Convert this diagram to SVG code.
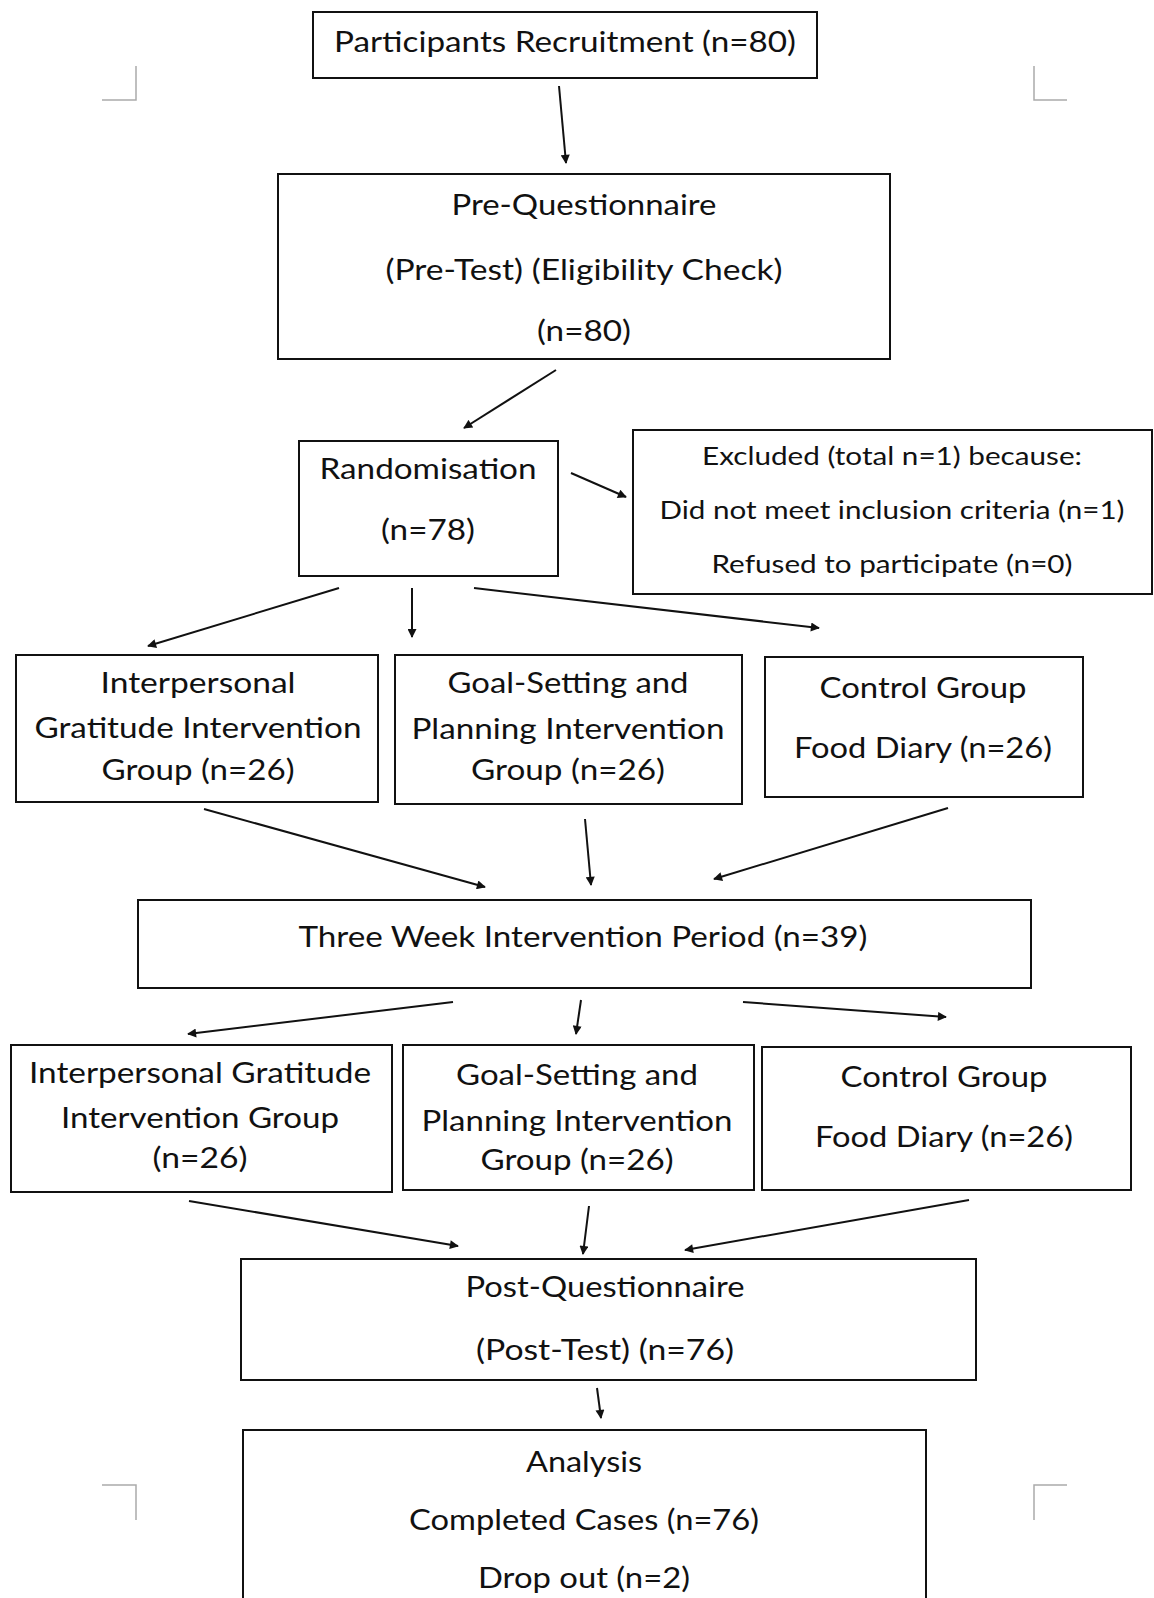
<svg xmlns="http://www.w3.org/2000/svg" width="1154" height="1598" viewBox="0 0 1154 1598">
<defs>
<style>
.box{fill:#fff;stroke:#111;stroke-width:2}
.t{font-family:Lato,"Open Sans","Liberation Sans",sans-serif;font-size:29px;fill:#111;text-anchor:middle}
.s{font-size:25px}
.c{stroke:#111;stroke-width:2;fill:none;marker-end:url(#ah)}
.crop{stroke:#aaa;stroke-width:1.5;fill:none}
</style>
<marker id="ah" viewBox="0 0 10 10" refX="9" refY="5" markerWidth="11" markerHeight="9" markerUnits="userSpaceOnUse" orient="auto">
<path d="M0,0 L10,5 L0,10 Z" fill="#111"/>
</marker>
</defs>
<rect width="1154" height="1598" fill="#fff"/>
<g id="cropmarks">
<path class="crop" d="M102,100 H136 V66"/>
<path class="crop" d="M1067,100 H1034 V66"/>
<path class="crop" d="M102,1485 H136 V1520"/>
<path class="crop" d="M1067,1485 H1034 V1520"/>
</g>
<g id="connectors">
<line class="c" x1="559" y1="86" x2="566" y2="163"/>
<line class="c" x1="556" y1="370" x2="464" y2="428"/>
<line class="c" x1="571" y1="473" x2="626" y2="497"/>
<line class="c" x1="339" y1="588" x2="148" y2="646"/>
<line class="c" x1="412" y1="588" x2="412" y2="637"/>
<line class="c" x1="474" y1="588" x2="819" y2="628"/>
<line class="c" x1="204" y1="809" x2="485" y2="887"/>
<line class="c" x1="585" y1="819" x2="591" y2="885"/>
<line class="c" x1="948" y1="808" x2="714" y2="879"/>
<line class="c" x1="453" y1="1002" x2="188" y2="1034"/>
<line class="c" x1="581" y1="1000" x2="576" y2="1034"/>
<line class="c" x1="743" y1="1002" x2="946" y2="1017"/>
<line class="c" x1="189" y1="1201" x2="458" y2="1246"/>
<line class="c" x1="589" y1="1206" x2="583" y2="1254"/>
<line class="c" x1="969" y1="1200" x2="685" y2="1250"/>
<line class="c" x1="597" y1="1388" x2="601" y2="1418"/>
</g>
<g id="recruitment">
<rect class="box" x="313" y="12" width="504" height="66"/>
<text class="t" x="565" y="52" textLength="462" lengthAdjust="spacingAndGlyphs">Participants Recruitment (n=80)</text>
</g>
<g id="pre-questionnaire">
<rect class="box" x="278" y="174" width="612" height="185"/>
<text class="t" x="584" y="215" textLength="265" lengthAdjust="spacingAndGlyphs">Pre-Questionnaire</text>
<text class="t" x="584" y="280" textLength="397" lengthAdjust="spacingAndGlyphs">(Pre-Test) (Eligibility Check)</text>
<text class="t" x="584" y="341" textLength="94" lengthAdjust="spacingAndGlyphs">(n=80)</text>
</g>
<g id="randomisation">
<rect class="box" x="299" y="441" width="259" height="135"/>
<text class="t" x="428" y="479" textLength="217" lengthAdjust="spacingAndGlyphs">Randomisation</text>
<text class="t" x="428" y="540" textLength="94" lengthAdjust="spacingAndGlyphs">(n=78)</text>
</g>
<g id="excluded">
<rect class="box" x="633" y="430" width="519" height="164"/>
<text class="t s" x="892" y="465" textLength="380" lengthAdjust="spacingAndGlyphs">Excluded (total n=1) because:</text>
<text class="t s" x="892" y="519" textLength="465" lengthAdjust="spacingAndGlyphs">Did not meet inclusion criteria (n=1)</text>
<text class="t s" x="892" y="573" textLength="361" lengthAdjust="spacingAndGlyphs">Refused to participate (n=0)</text>
</g>
<g id="gratitude-1">
<rect class="box" x="16" y="655" width="362" height="147"/>
<text class="t" x="198" y="693" textLength="195" lengthAdjust="spacingAndGlyphs">Interpersonal</text>
<text class="t" x="198" y="738" textLength="327" lengthAdjust="spacingAndGlyphs">Gratitude Intervention</text>
<text class="t" x="198" y="780" textLength="193" lengthAdjust="spacingAndGlyphs">Group (n=26)</text>
</g>
<g id="goal-1">
<rect class="box" x="395" y="655" width="347" height="149"/>
<text class="t" x="568" y="693" textLength="241" lengthAdjust="spacingAndGlyphs">Goal-Setting and</text>
<text class="t" x="568" y="739" textLength="313" lengthAdjust="spacingAndGlyphs">Planning Intervention</text>
<text class="t" x="568" y="780" textLength="194" lengthAdjust="spacingAndGlyphs">Group (n=26)</text>
</g>
<g id="control-1">
<rect class="box" x="765" y="657" width="318" height="140"/>
<text class="t" x="923" y="698" textLength="207" lengthAdjust="spacingAndGlyphs">Control Group</text>
<text class="t" x="923" y="758" textLength="258" lengthAdjust="spacingAndGlyphs">Food Diary (n=26)</text>
</g>
<g id="three-week">
<rect class="box" x="138" y="900" width="893" height="88"/>
<text class="t" x="583" y="947" textLength="569" lengthAdjust="spacingAndGlyphs">Three Week Intervention Period (n=39)</text>
</g>
<g id="gratitude-2">
<rect class="box" x="11" y="1045" width="381" height="147"/>
<text class="t" x="200" y="1083" textLength="342" lengthAdjust="spacingAndGlyphs">Interpersonal Gratitude</text>
<text class="t" x="200" y="1128" textLength="278" lengthAdjust="spacingAndGlyphs">Intervention Group</text>
<text class="t" x="200" y="1168" textLength="95" lengthAdjust="spacingAndGlyphs">(n=26)</text>
</g>
<g id="goal-2">
<rect class="box" x="403" y="1045" width="351" height="145"/>
<text class="t" x="577" y="1085" textLength="242" lengthAdjust="spacingAndGlyphs">Goal-Setting and</text>
<text class="t" x="577" y="1131" textLength="311" lengthAdjust="spacingAndGlyphs">Planning Intervention</text>
<text class="t" x="577" y="1170" textLength="193" lengthAdjust="spacingAndGlyphs">Group (n=26)</text>
</g>
<g id="control-2">
<rect class="box" x="762" y="1047" width="369" height="143"/>
<text class="t" x="944" y="1087" textLength="207" lengthAdjust="spacingAndGlyphs">Control Group</text>
<text class="t" x="944" y="1147" textLength="258" lengthAdjust="spacingAndGlyphs">Food Diary (n=26)</text>
</g>
<g id="post-questionnaire">
<rect class="box" x="241" y="1259" width="735" height="121"/>
<text class="t" x="605" y="1297" textLength="279" lengthAdjust="spacingAndGlyphs">Post-Questionnaire</text>
<text class="t" x="605" y="1360" textLength="258" lengthAdjust="spacingAndGlyphs">(Post-Test) (n=76)</text>
</g>
<g id="analysis">
<rect class="box" x="243" y="1430" width="683" height="180"/>
<text class="t" x="584" y="1472" textLength="116" lengthAdjust="spacingAndGlyphs">Analysis</text>
<text class="t" x="584" y="1530" textLength="350" lengthAdjust="spacingAndGlyphs">Completed Cases (n=76)</text>
<text class="t" x="584" y="1588" textLength="212" lengthAdjust="spacingAndGlyphs">Drop out (n=2)</text>
</g>
</svg>
